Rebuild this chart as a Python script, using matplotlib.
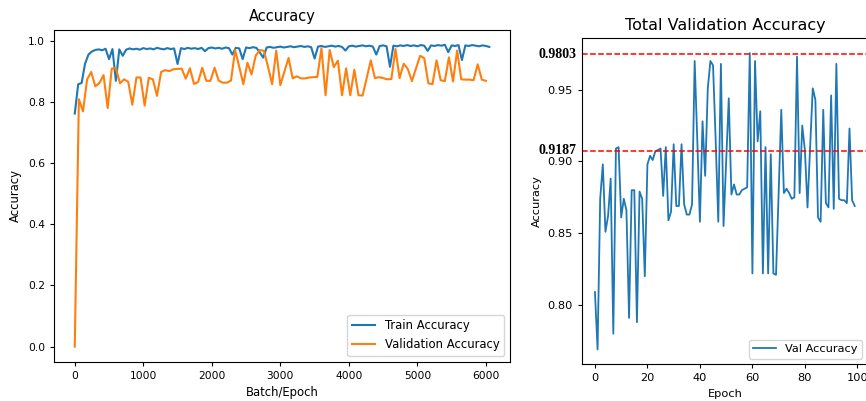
import matplotlib.pyplot as plt

# validation accuracy per epoch (right panel, also left panel after the initial 0)
val_acc = [0.809, 0.769, 0.874, 0.898, 0.851, 0.862, 0.888, 0.780, 0.909, 0.910,
           0.861, 0.874, 0.866, 0.791, 0.880, 0.880, 0.788, 0.879, 0.874, 0.820,
           0.898, 0.904, 0.901, 0.907, 0.908, 0.909, 0.876, 0.910, 0.859, 0.865,
           0.912, 0.869, 0.869, 0.912, 0.870, 0.863, 0.863, 0.870, 0.970, 0.915,
           0.858, 0.928, 0.890, 0.951, 0.970, 0.967, 0.915, 0.858, 0.968, 0.855,
           0.900, 0.944, 0.877, 0.884, 0.877, 0.877, 0.880, 0.881, 0.882, 0.9755,
           0.822, 0.970, 0.914, 0.935, 0.822, 0.910, 0.822, 0.905, 0.822, 0.821,
           0.878, 0.936, 0.878, 0.881, 0.878, 0.874, 0.875, 0.973, 0.878, 0.925,
           0.908, 0.868, 0.910, 0.951, 0.943, 0.861, 0.858, 0.936, 0.871, 0.868,
           0.946, 0.867, 0.968, 0.874, 0.873, 0.873, 0.871, 0.923, 0.873, 0.869]

# train accuracy logged every 50 batches
train_step = 50
train_acc = [0.762, 0.858, 0.862, 0.925, 0.955, 0.965, 0.970, 0.972, 0.969, 0.974,
             0.940, 0.973, 0.869, 0.972, 0.951, 0.971, 0.975, 0.972, 0.974, 0.971,
             0.976, 0.973, 0.975, 0.972, 0.977, 0.974, 0.972, 0.976, 0.973, 0.975,
             0.924, 0.976, 0.973, 0.977, 0.974, 0.976, 0.973, 0.977, 0.966, 0.976,
             0.978, 0.975, 0.977, 0.974, 0.978, 0.976, 0.955, 0.977, 0.975, 0.940,
             0.978, 0.976, 0.979, 0.977, 0.962, 0.945, 0.978, 0.980, 0.977, 0.979,
             0.981, 0.978, 0.980, 0.982, 0.979, 0.981, 0.983, 0.980, 0.982, 0.979,
             0.942, 0.981, 0.983, 0.980, 0.982, 0.984, 0.981, 0.983, 0.980, 0.968,
             0.982, 0.984, 0.981, 0.983, 0.985, 0.982, 0.984, 0.981, 0.955, 0.983,
             0.985, 0.982, 0.915, 0.984, 0.982, 0.985, 0.983, 0.986, 0.983, 0.985,
             0.982, 0.986, 0.984, 0.967, 0.985, 0.983, 0.986, 0.984, 0.987, 0.963,
             0.985, 0.983, 0.986, 0.937, 0.985, 0.983, 0.986, 0.984, 0.982, 0.985,
             0.983, 0.980]
batches_per_epoch = 60

# reference lines on the right panel (position, label)
line_hi, label_hi = 0.9748, '0.9803'
line_lo, label_lo = 0.9075, '0.9187'

train_x = [i * train_step for i in range(len(train_acc))]
val_x = [i * batches_per_epoch for i in range(len(val_acc) + 1)]
val_y = [0.0] + val_acc
epochs = list(range(len(val_acc)))

fig = plt.figure(figsize=(8.66, 4.01), dpi=100)

# left panel
ax1 = fig.add_axes([0.0624, 0.098, 0.5266, 0.828])
ax1.plot(train_x, train_acc, color='C0', lw=1.5, label='Train Accuracy')
ax1.plot(val_x, val_y, color='C1', lw=1.5, label='Validation Accuracy')
ax1.set_title('Accuracy', fontsize=10.5)
ax1.set_xlabel('Batch/Epoch', fontsize=8.4)
ax1.set_ylabel('Accuracy', fontsize=8.4)
ax1.tick_params(labelsize=7.7, length=3)
ax1.legend(loc='lower right', fontsize=8.4)

# right panel
ax2 = fig.add_axes([0.672, 0.0915, 0.330, 0.813])
ax2.plot(epochs, val_acc, color='C0', lw=1.3, label='Val Accuracy')
ax2.axhline(line_hi, color='red', ls='--', lw=1.1)
ax2.axhline(line_lo, color='red', ls='--', lw=1.1)
tr = ax2.get_yaxis_transform()
for v, s in [(line_hi, label_hi), (line_lo, label_lo)]:
    ax2.text(-0.018, v, s, transform=tr, ha='right', va='center',
             fontsize=10, fontweight='bold', family='Liberation Serif')
ax2.set_title('Total Validation Accuracy', fontsize=11.5)
ax2.set_xlabel('Epoch', fontsize=8.2)
ax2.set_ylabel('Accuracy', fontsize=8.2)
ax2.tick_params(labelsize=8.2, length=3)
ax2.legend(loc='lower right', fontsize=8.2)

fig.savefig('out.png', dpi=100)
